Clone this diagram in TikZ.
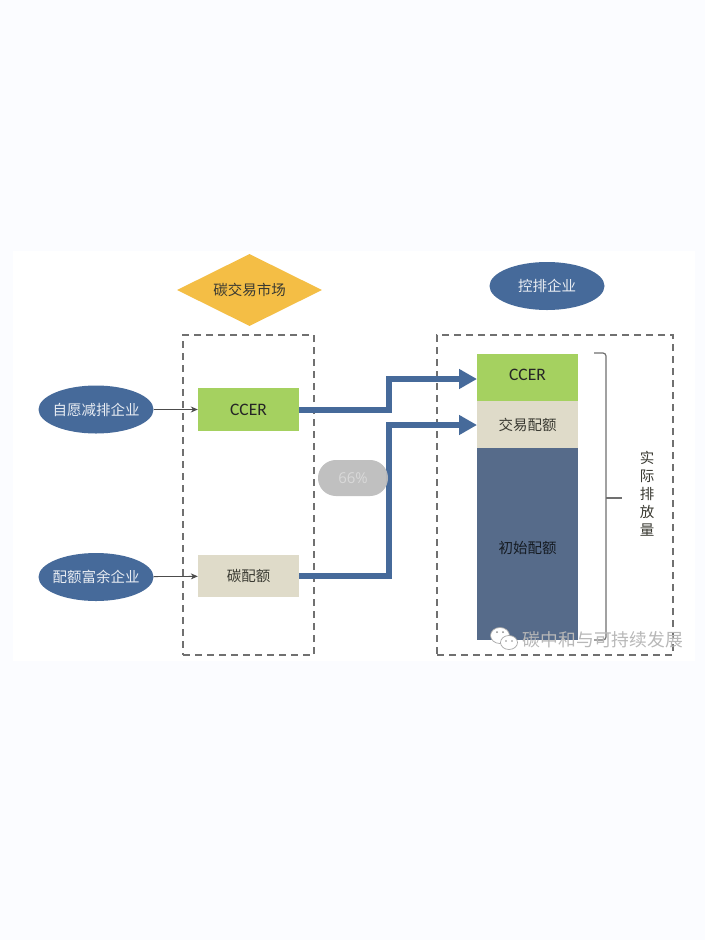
\documentclass[tikz,border=0pt]{standalone}
\usepackage{fontspec}
\setmainfont{Carlito}
\newfontfamily\cjk{Noto Sans CJK SC}
\newfontfamily\pct{Open Sans}
\usetikzlibrary{arrows.meta, shapes.geometric}
\definecolor{pagebg}{HTML}{FBFCFF}
\definecolor{bluefill}{HTML}{466A9A}
\definecolor{slatefill}{HTML}{566B8A}
\definecolor{greenfill}{HTML}{A5D160}
\definecolor{beigefill}{HTML}{DFDBC9}
\definecolor{goldfill}{HTML}{F4BE45}
\definecolor{dashgray}{HTML}{707070}
\definecolor{darktext}{HTML}{3A3A32}
\tikzset{
	party/.style={ellipse, fill=bluefill, inner sep=0, minimum width=115, minimum height=48, text=white!88!bluefill, font=\fontsize{14.5}{16}\cjk},
	block/.style={rectangle, inner sep=0, minimum width=101, text=darktext, font=\fontsize{14.5}{16}\cjk},
	dashbox/.style={rectangle, draw=dashgray, line width=1.1, dash pattern=on 7 off 5, inner sep=0},
	thinarrow/.style={-{Stealth[length=7,width=6]}, black!70, line width=0.8},
	flowarrow/.style={-{Triangle[length=18,width=19]}, bluefill, line width=6, line join=miter},
}
\begin{document}
\begin{tikzpicture}[x=1pt, y=-1pt]
	\fill [pagebg] (0,0) rectangle (705,940);
	\fill [white] (13,251) rectangle (695,661);
	\useasboundingbox (0,0) rectangle (705,940);

	% dashed frames
	\node [dashbox, minimum width=131, minimum height=320] (market) at (248.5,495) {};
	\node [dashbox, minimum width=236, minimum height=320] (firm) at (555,495) {};

	% headings
	\node [diamond, aspect=2, fill=goldfill, inner sep=0, minimum width=145, minimum height=72, text=darktext, font=\fontsize{14.5}{16}\cjk] (tradehead) at (249.5,290) {碳交易市场};
	\node [party] (firmhead) at (547,286) {\makebox[0pt]{控排企业}};

	% sellers
	\node [party] (volunteer) at (96,409.5) {\makebox[0pt]{自愿减排企业}};
	\node [party] (surplus) at (96,577) {\makebox[0pt]{配额富余企业}};

	% market blocks
	\node [block, fill=greenfill, minimum height=43, font=\fontsize{17.5}{18}\selectfont, text=black!85] (ccerL) at (248.5,409.5) {CCER};
	\node [block, fill=beigefill, minimum height=42] (quotaL) at (248.5,576) {碳配额};

	% firm stack
	\node [block, fill=greenfill, minimum height=47, text height=9, text depth=3, font=\fontsize{17.5}{18}\selectfont, text=black!85] (ccerR) at (527.5,377.5) {CCER};
	\node [block, fill=beigefill, minimum height=47] (tradeR) at (527.5,424.5) {交易配额};
	\node [block, fill=slatefill, minimum height=192, text height=22, text depth=3, text=black!75!slatefill] (initR) at (527.5,544) {初始配额};

	\coordinate (bendA) at (389,395);
	\coordinate (bendB) at (389,500);
	\coordinate (tipA) at (477,379);
	\coordinate (tipB) at (477,425);
	\draw [thinarrow] (volunteer) -- (ccerL);
	\draw [thinarrow] (surplus) -- (quotaL);
	\draw [flowarrow] (ccerL.east) -| (bendA) |- (tipA);
	\draw [flowarrow] (quotaL.east) -| (bendB) |- (tipB);

	% bracket
	\coordinate (braceT) at (594,353);
	\coordinate (braceB) at (594,640);
	\coordinate (braceS) at (606,498);
	\coordinate (braceE) at (622,498);
	\draw [dashgray, line width=1.2, rounded corners=3] (braceT) -- (606,353) -- (606,640) -- (braceB);
	\draw [dashgray, line width=1.2] (braceS) -- (braceE);
	\node [align=center, inner sep=0, text=darktext, font=\fontsize{14.5}{18}\cjk] (actual) at (647,494) {实\\际\\排\\放\\量};

	% overlay pill
	\node [rectangle, rounded corners=17.9, fill=black!26, fill opacity=0.95, text opacity=1, inner sep=0, minimum width=70, minimum height=36, text=white!85!black, font=\fontsize{15}{16}\pct] (pill) at (353,478) {66\%};

	% watermark
	\fill [white, draw=black!35, line width=0.7] (500,635.5) ellipse (9.5 and 8);
	\fill [white, draw=black!35, line width=0.7] (509,642.5) ellipse (8.5 and 7);
	\fill [black!45] (497,632) circle (1) (503,632) circle (1) (506,641) circle (0.9) (512,641) circle (0.9);
	\node [inner sep=0, text=white!72!black, font=\fontsize{17.8}{18}\cjk] (mark) at (603,640) {碳中和与可持续发展};
\end{tikzpicture}
\end{document}
